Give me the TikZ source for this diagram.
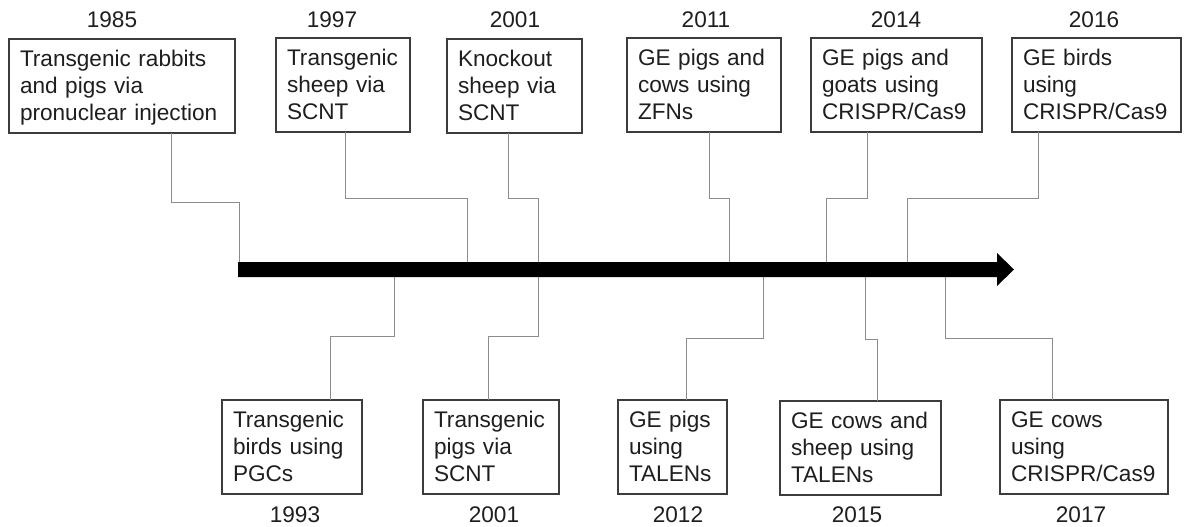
\documentclass[tikz,border=0pt]{standalone}
\usepackage{fontspec}
\setmainfont{Liberation Sans}
\newcommand{\topstr}{\rule{0pt}{27.5pt}}
\newcommand{\botstr}{\rule[-12.5pt]{0pt}{0pt}}
\newcommand{\evfont}{\fontsize{22.6}{27}\selectfont\hyphenpenalty=10000\exhyphenpenalty=10000}
\definecolor{txt}{HTML}{1E1E1E}
\definecolor{boxline}{HTML}{3C3C3C}
\definecolor{connline}{HTML}{8C8C8C}
\tikzset{
  evbox/.style={draw=boxline, line width=1.2pt, anchor=north west, outer sep=0pt,
    inner xsep=11pt, inner ysep=0pt, align=left, text=txt, minimum height=94pt, font=\evfont},
  yearlbl/.style={anchor=base, text=txt, font=\evfont, inner sep=0pt},
  conn/.style={draw=connline, line width=1pt},
}
\begin{document}
\begin{tikzpicture}[x=1pt, y=-1pt]
\useasboundingbox (0,0) rectangle (1184,527);

% top boxes
\node[evbox, text width=204pt] (T1) at (9,39)   {\topstr Transgenic rabbits\\and pigs via\\pronuclear injection\botstr};
\node[evbox, text width=112pt] (T2) at (276,38) {\topstr Transgenic\\sheep via\\SCNT\botstr};
\node[evbox, text width=113pt] (T3) at (447,39) {\topstr Knockout\\sheep via\\SCNT\botstr};
\node[evbox, text width=132pt] (T4) at (627,38) {\topstr GE pigs and\\cows using\\ZFNs\botstr};
\node[evbox, text width=149pt] (T5) at (811,38) {\topstr GE pigs and\\goats using\\CRISPR/Cas9\botstr};
\node[evbox, text width=147pt] (T6) at (1012,38) {\topstr GE birds\\using\\CRISPR/Cas9\botstr};

% bottom boxes
\node[evbox, text width=118pt] (B1) at (222,400) {\topstr Transgenic\\birds using\\PGCs\botstr};
\node[evbox, text width=114pt] (B2) at (423,400) {\topstr Transgenic\\pigs via\\SCNT\botstr};
\node[evbox, text width=87pt]  (B3) at (618,400) {\topstr GE pigs\\using\\TALENs\botstr};
\node[evbox, text width=139pt] (B4) at (780,401) {\topstr GE cows and\\sheep using\\TALENs\botstr};
\node[evbox, text width=146pt] (B5) at (1000,400) {\topstr GE cows\\using\\CRISPR/Cas9\botstr};

% year labels
\node[yearlbl] (Y1) at (112,28)  {1985};
\node[yearlbl] (Y2) at (332,28)  {1997};
\node[yearlbl] (Y3) at (515,28)  {2001};
\node[yearlbl] (Y4) at (706,28)  {2011};
\node[yearlbl] (Y5) at (896,28)  {2014};
\node[yearlbl] (Y6) at (1094,28) {2016};
\node[yearlbl] (Z1) at (295,522) {1993};
\node[yearlbl] (Z2) at (494,522) {2001};
\node[yearlbl] (Z3) at (678,522) {2012};
\node[yearlbl] (Z4) at (857,522) {2015};
\node[yearlbl] (Z5) at (1081,522) {2017};

% points where connectors meet the time arrow
\coordinate (h1) at (239,262);
\coordinate (h2) at (467,262);
\coordinate (h3) at (538,262);
\coordinate (h4) at (729,262);
\coordinate (h5) at (826,262);
\coordinate (h6) at (907,262);
\coordinate (g1) at (394,277);
\coordinate (g2) at (538,277);
\coordinate (g3) at (763,277);
\coordinate (g4) at (865,277);
\coordinate (g5) at (945,277);

% connectors
\draw[conn] ([xshift=162pt]T1.south west) -- ++(0,69) -| (h1);
\draw[conn] ([xshift=69pt]T2.south west)  -- ++(0,66) -| (h2);
\draw[conn] ([xshift=61pt]T3.south west)  -- ++(0,65) -| (h3);
\draw[conn] ([xshift=82pt]T4.south west)  -- ++(0,66) -| (h4);
\draw[conn] ([xshift=56pt]T5.south west)  -- ++(0,66) -| (h5);
\draw[conn] ([xshift=26pt]T6.south west)  -- ++(0,66) -| (h6);
\draw[conn] ([xshift=108pt]B1.north west) -- ++(0,-64) -| (g1);
\draw[conn] ([xshift=65pt]B2.north west)  -- ++(0,-64) -| (g2);
\draw[conn] ([xshift=68pt]B3.north west)  -- ++(0,-62) -| (g3);
\draw[conn] ([xshift=97pt]B4.north west)  -- ++(0,-62) -| (g4);
\draw[conn] ([xshift=52pt]B5.north west)  -- ++(0,-62) -| (g5);

% time arrow
\fill[black] (238,262) -- (997,262) -- (997,253) -- (1014,269.5) -- (997,286) -- (997,277) -- (238,277) -- cycle;
\end{tikzpicture}
\end{document}
